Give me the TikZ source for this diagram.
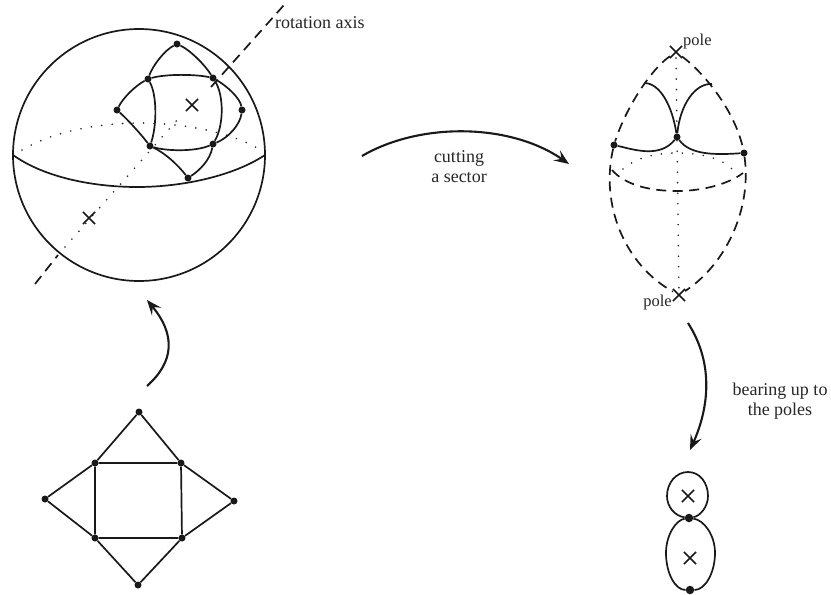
\documentclass[tikz,border=0pt]{standalone}
\usepackage{fontspec}
\setmainfont{Liberation Serif}
\usetikzlibrary{arrows.meta,shapes.misc}
\tikzset{
  vtx/.style={circle,fill=black!90,inner sep=0pt,minimum size=7pt},
  bigvtx/.style={circle,fill=black!90,inner sep=0pt,minimum size=8.5pt},
  xmark/.style={cross out,draw=black!90,line width=1.6pt,inner sep=0pt,minimum size=10.5pt},
  edge/.style={line width=1.7pt,black!90},
  dashedge/.style={line width=1.7pt,black!90,dash pattern=on 10pt off 6.5pt},
  dotedge/.style={line width=1.8pt,black!85,line cap=round,dash pattern=on 0pt off 10.5pt},
  bigarrow/.style={line width=2.1pt,black!90,-{Stealth[length=15pt,width=12pt,inset=6pt]}},
  lbl/.style={font=\fontsize{18pt}{20pt}\selectfont,text=black!85,inner sep=0pt,align=center},
  plbl/.style={font=\fontsize{16.5pt}{20pt}\selectfont,text=black!85,inner sep=0pt}
}
\begin{document}
\begin{tikzpicture}[x=1pt,y=-1pt]
\useasboundingbox (0,0) rectangle (831,595);
% sphere
\node[draw=black!90,line width=1.7pt,circle,inner sep=0pt,minimum size=252pt] (sph) at (139,155) {};
\coordinate (eqL) at (13,155); \coordinate (eqR) at (265,155);
\draw[edge] (eqL) .. controls (45,178) and (95,187) .. (137,187) .. controls (185,187) and (235,175) .. (eqR);
\draw[dotedge] (22,150) .. controls (50,133) and (95,123) .. (140,123) .. controls (185,123) and (232,133) .. (259,149);
% axis
\coordinate (ax1) at (35,284); \coordinate (ax2) at (58,255); \coordinate (ax2b) at (65,247); \coordinate (ax3) at (178,119); \coordinate (ax4) at (211,87); \coordinate (ax5) at (284,5);
\draw[dashedge] (ax1) -- (ax2);
\draw[dotedge] (ax2b) -- (ax3);
\draw[dashedge] (ax4) -- (ax5);
\node[xmark] (xa) at (192,105) {};
\node[xmark] (xb) at (89,218) {};
% graph on sphere
\node[vtx] (s1) at (177,44) {};
\node[vtx] (s2) at (148,79) {};
\node[vtx] (s3) at (213,78) {};
\node[vtx] (s4) at (117,110) {};
\node[vtx] (s5) at (242,110) {};
\node[vtx] (s6) at (150,146) {};
\node[vtx] (s7) at (213,144) {};
\node[vtx] (s8) at (188,178) {};
\draw[edge] (s1) .. controls (165,50) and (153,65) .. (s2);
\draw[edge] (s1) .. controls (190,50) and (205,65) .. (s3);
\draw[edge] (s2) .. controls (165,74) and (195,74) .. (s3);
\draw[edge] (s2) .. controls (157,95) and (157,125) .. (s6);
\draw[edge] (s3) .. controls (224,95) and (224,125) .. (s7);
\draw[edge] (s2) .. controls (135,86) and (123,98) .. (s4);
\draw[edge] (s3) .. controls (227,86) and (240,98) .. (s5);
\draw[edge] (s4) .. controls (128,120) and (140,133) .. (s6);
\draw[edge] (s5) .. controls (240,125) and (228,138) .. (s7);
\draw[edge] (s6) .. controls (165,151) and (195,152) .. (s7);
\draw[edge] (s6) .. controls (165,153) and (178,165) .. (s8);
\draw[edge] (s7) .. controls (210,160) and (200,170) .. (s8);
% rotation label
\node[lbl,anchor=west] (t1) at (275,23) {rotation axis};
% lemon
\node[xmark] (pN) at (676,52) {};
\node[xmark] (pS) at (679,295) {};
\node[plbl,anchor=west] (t2) at (683,42) {pole};
\node[plbl,anchor=east] (t3) at (672,303) {pole};
\node[vtx] (l1) at (614,145) {};
\node[vtx] (l2) at (677,137) {};
\node[vtx] (l3) at (744,153) {};
\coordinate (e1) at (645,83); \coordinate (e2) at (712,84);
\draw[dashedge] (pN) .. controls (650,70) and (625,110) .. (l1);
\draw[dashedge] (l1) .. controls (600,205) and (625,265) .. (pS);
\draw[dashedge] (pN) .. controls (703,72) and (735,110) .. (l3);
\draw[dashedge] (l3) .. controls (752,210) and (725,265) .. (pS);
\draw[dashedge] (612,170) .. controls (625,185) and (650,191) .. (677,191) .. controls (705,191) and (730,183) .. (743,173);
\draw[dotedge] (623,169) .. controls (635,158) and (655,153) .. (677,153) .. controls (700,153) and (722,158) .. (732,169);
\draw[dotedge] (l2) -- (pS);
\draw[dotedge] (pN) -- (l2);
\draw[edge] (e1) .. controls (660,84) and (672,105) .. (l2);
\draw[edge] (e2) .. controls (695,83) and (680,105) .. (l2);
\draw[edge] (l1) .. controls (635,150) and (660,158) .. (l2);
\draw[edge] (l2) .. controls (690,155) and (715,155) .. (l3);
% bottom right loops
\node[xmark] (x1) at (688,496) {};
\node[xmark] (x2) at (690,558) {};
\node[bigvtx] (b1) at (689,518) {};
\node[bigvtx] (b2) at (690,590) {};
\draw[edge] (b1) .. controls (675,516) and (667,507) .. (667,496) .. controls (667,483) and (676,472) .. (688,472) .. controls (700,472) and (708,483) .. (708,496) .. controls (708,507) and (700,516) .. (b1);
\draw[edge] (b1) .. controls (676,520) and (666,535) .. (666,553) .. controls (666,573) and (675,590) .. (b2);
\draw[edge] (b1) .. controls (704,520) and (715,535) .. (715,553) .. controls (715,573) and (705,590) .. (b2);
% flat graph
\node[vtx] (g1) at (139,412) {};
\node[vtx] (g2) at (45,499) {};
\node[vtx] (g3) at (234,501) {};
\node[vtx] (g4) at (138,585) {};
\node[vtx] (g5) at (95,463) {};
\node[vtx] (g6) at (181,463) {};
\node[vtx] (g7) at (95,538) {};
\node[vtx] (g8) at (182,538) {};
\draw[edge] (g1) -- (g5) -- (g2) -- (g7) -- (g4) -- (g8) -- (g3) -- (g6) -- (g1);
\draw[edge] (g5) -- (g6) -- (g8) -- (g7) -- (g5);
% arrows
\coordinate (a1) at (147,386); \coordinate (a2) at (147,300);
\draw[bigarrow] (a1) .. controls (174,362) and (176,335) .. (a2);
\coordinate (a3) at (362,156); \coordinate (a4) at (569,164);
\draw[bigarrow] (a3) .. controls (420,122) and (510,123) .. (a4);
\coordinate (a5) at (688,323); \coordinate (a6) at (690,450);
\draw[bigarrow] (a5) .. controls (715,365) and (708,410) .. (a6);
\node[lbl] (t4) at (459,167) {cutting\\a sector};
\node[lbl] (t5) at (780,401) {bearing up to\\the poles};
\end{tikzpicture}
\end{document}
